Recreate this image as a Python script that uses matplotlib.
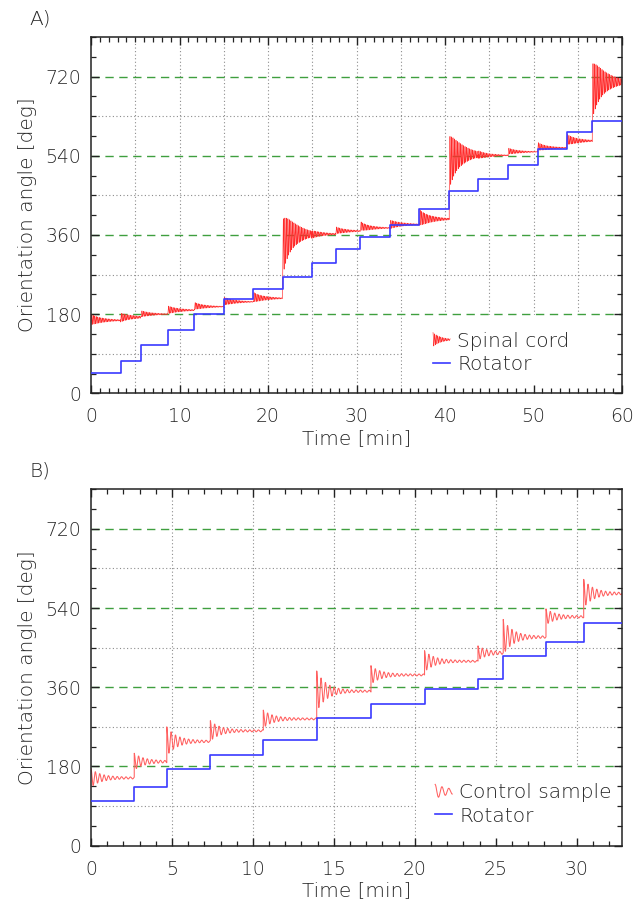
import numpy as np
import matplotlib
matplotlib.use("Agg")
import matplotlib.pyplot as plt
from matplotlib.lines import Line2D
from matplotlib.legend_handler import HandlerBase
from matplotlib.patches import Rectangle
from matplotlib.ticker import MultipleLocator

#------------------------------------
# Data
#------------------------------------
# Panel A: rotator step start times [min] and angles [deg]
A_STEP_T  = [0, 3.35, 5.67, 8.68, 11.69, 15.0, 18.34, 21.65, 24.96, 27.66, 30.44,
             33.79, 37.1, 40.47, 43.74, 47.13, 50.47, 53.74, 56.63]
A_ROTATOR = [46, 74, 110, 143, 181, 214, 237, 264, 296, 329, 355,
             383, 419, 460, 488, 518, 555, 593, 619]
# spinal cord after each step: mean right after the step, half swing, settled level
A_CORD_START = [168, 172, 181, 190, 199, 210, 219, 330, 361, 371, 381,
                384, 400, 523, 543, 551, 562, 578, 685]
A_CORD_SWING = [12, 10, 7, 9, 8, 9, 11, 65, 9, 8, 10,
                10, 18, 61, 9, 7, 9, 12, 64]
A_CORD_LEVEL = [166, 173, 180, 189, 197, 208, 216, 362, 362, 369, 376,
                384, 396, 543, 541, 549, 558, 574, 708]
A_TMAX = 60

# Panel B: rotator steps and control sample (first peak, settled level)
B_STEP_T  = [0, 2.67, 4.68, 7.37, 10.64, 13.94, 17.29, 20.6, 23.9, 25.46, 28.1, 30.43]
B_ROTATOR = [102, 133, 175, 207, 240, 291, 322, 355, 378, 431, 463, 507]
B_CTRL_PEAK  = [175, 210, 270, 284, 308, 397, 409, 443, 454, 514, 538, 605]
B_CTRL_LEVEL = [154, 191, 237, 261, 288, 351, 388, 419, 438, 474, 520, 573]
B_TMAX = 32.8

RED_A   = '#ff2a2a'
RED_B   = '#ff6060'
BLUE    = '#3a3aff'
GREEN   = '#3f9f3f'
GRAY    = '#8c8c8c'
TEXT    = '#262626'

plt.rcParams['font.family'] = ['DejaVu Sans']
plt.rcParams['font.weight'] = 'light'
plt.rcParams['axes.labelweight'] = 'light'
plt.rcParams['font.size'] = 13


def cord_trace(step_t, start, swing, level, tmax, period=0.17, tau_a=1.5, tau_m=0.45):
    # damped oscillation after every rotator step
    ends = list(step_t[1:]) + [tmax]
    xs, ys = [], []
    for t0, t1, m0, a0, lev in zip(step_t, ends, start, swing, level):
        t = np.linspace(0, t1 - t0, int((t1 - t0) / period * 16))
        m = lev - (lev - m0) * np.exp(-t / tau_m)
        a = a0 * np.exp(-t / tau_a)
        xs.append(t0 + t)
        ys.append(m - a * np.cos(2 * np.pi * t / period))
    return np.concatenate(xs), np.concatenate(ys)


def control_trace(step_t, peak, level, tmax, period=0.27, tau=0.6, ripple=2.0):
    ends = list(step_t[1:]) + [tmax]
    xs, ys = [], []
    for t0, t1, p, lev in zip(step_t, ends, peak, level):
        t = np.linspace(0, t1 - t0, int((t1 - t0) / period * 24))
        a = (p - lev - ripple) * np.exp(-t / tau) + ripple
        xs.append(t0 + t)
        ys.append(lev + a * np.cos(2 * np.pi * t / period))
    return np.concatenate(xs), np.concatenate(ys)


class WiggleHandler(HandlerBase):
    # legend sample drawn as a small damped wiggle
    def __init__(self, cycles, damping, **kw):
        super().__init__(**kw)
        self.cycles = cycles
        self.damping = damping

    def create_artists(self, legend, orig_handle, xdescent, ydescent, width, height,
                       fontsize, trans):
        u = np.linspace(0, 1, 400)
        x = -xdescent + width * u
        y = -ydescent + height * (0.5 + 0.5 * np.exp(-self.damping * u)
                                  * np.cos(2 * np.pi * self.cycles * u))
        line = Line2D(x, y, color=orig_handle.get_color(), lw=orig_handle.get_linewidth())
        line.set_transform(trans)
        return [line]


def style_axes(ax, tmax, xmajor, grid_step, box_x0):
    ax.set_xlim(0, tmax)
    ax.set_ylim(0, 810)
    ax.xaxis.set_major_locator(MultipleLocator(xmajor))
    ax.xaxis.set_minor_locator(MultipleLocator(1))
    ax.yaxis.set_major_locator(MultipleLocator(180))
    ax.yaxis.set_minor_locator(MultipleLocator(45))
    ax.tick_params(which='both', direction='in', top=True, right=True, color='#222222')
    ax.tick_params(which='major', length=6, width=1.0, labelsize=13.5, pad=7, labelcolor=TEXT)
    ax.tick_params(axis='x', which='major', pad=10)
    ax.tick_params(which='minor', length=3.5, width=0.9)
    for s in ax.spines.values():
        s.set_linewidth(1.1)
        s.set_color('#222222')
    for gx in np.arange(grid_step, tmax, grid_step):
        ax.axvline(gx, color=GRAY, lw=0.8, ls=(0, (1, 2.2)), zorder=1)
    for gy in np.arange(90, 810, 180):
        ax.axhline(gy, color=GRAY, lw=0.8, ls=(0, (1, 2.2)), zorder=1)
    for gy in np.arange(180, 810, 180):
        ax.axhline(gy, color=GREEN, lw=1.0, ls=(0, (6, 4)), zorder=1.3)
    # blank area behind the legend
    ax.add_patch(Rectangle((box_x0, 0), tmax - box_x0, 178, facecolor='white',
                           edgecolor='none', zorder=1.2))
    ax.set_xlabel('Time [min]', fontsize=14.5, color=TEXT, labelpad=2)
    ax.set_ylabel('Orientation angle [deg]', fontsize=14.5, color=TEXT, labelpad=6)


fig = plt.figure(figsize=(6.36, 9.05), dpi=100)
ax_a = fig.add_axes([0.1431, 0.5654, 0.8350, 0.3937])
ax_b = fig.add_axes([0.1431, 0.0655, 0.8350, 0.3940])

# ---- panel A
style_axes(ax_a, A_TMAX, 10, 5, 35.1)
tx, ty = cord_trace(A_STEP_T, A_CORD_START, A_CORD_SWING, A_CORD_LEVEL, A_TMAX)
cord, = ax_a.plot(tx, ty, color=RED_A, lw=0.45, zorder=2)
rot_a, = ax_a.step(list(A_STEP_T) + [A_TMAX], list(A_ROTATOR) + [A_ROTATOR[-1]],
                   where='post', color=BLUE, lw=1.2, zorder=3)
ax_a.legend([cord, rot_a], ['Spinal cord', 'Rotator'], loc='center left',
            bbox_to_anchor=(0.644, 0.114), frameon=False, fontsize=14.5,
            handlelength=0.85, handletextpad=0.35, labelspacing=0.2,
            borderpad=0, borderaxespad=0, labelcolor=TEXT,
            handler_map={cord: WiggleHandler(11, 2.2)})
fig.text(0.047, 0.979, 'A)', fontsize=14.5, color=TEXT, va='center')

# ---- panel B
style_axes(ax_b, B_TMAX, 5, 5, 20.1)
cx, cy = control_trace(B_STEP_T, B_CTRL_PEAK, B_CTRL_LEVEL, B_TMAX)
ctrl, = ax_b.plot(cx, cy, color=RED_B, lw=0.75, zorder=2)
rot_b, = ax_b.step(list(B_STEP_T) + [B_TMAX], list(B_ROTATOR) + [B_ROTATOR[-1]],
                   where='post', color=BLUE, lw=1.2, zorder=3)
ax_b.legend([ctrl, rot_b], ['Control sample', 'Rotator'], loc='center left',
            bbox_to_anchor=(0.648, 0.1156), frameon=False, fontsize=14.5,
            handlelength=0.85, handletextpad=0.35, labelspacing=0.2,
            borderpad=0, borderaxespad=0, labelcolor=TEXT,
            handler_map={ctrl: WiggleHandler(2.5, 1.0)})
fig.text(0.047, 0.4796, 'B)', fontsize=14.5, color=TEXT, va='center')

fig.savefig('out.png', dpi=100)
